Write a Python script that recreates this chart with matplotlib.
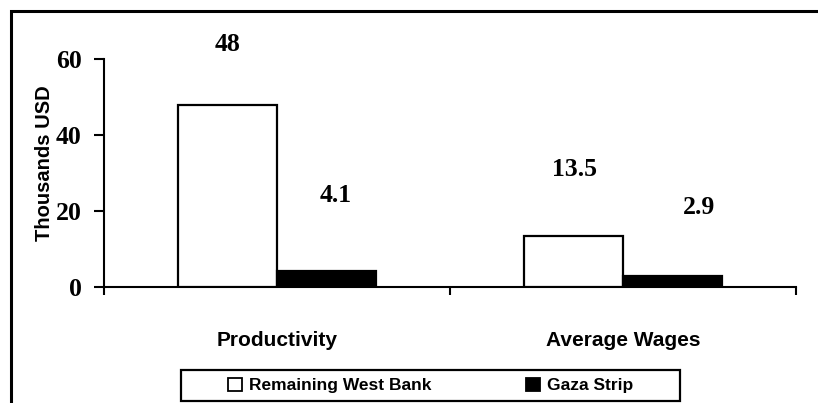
import matplotlib
matplotlib.use("Agg")
import matplotlib.pyplot as plt
from matplotlib.patches import Rectangle, Patch

# data
categories = ["Productivity", "Average Wages"]
west_bank = [48, 13.5]
gaza = [4.1, 2.9]
west_bank_labels = ["48", "13.5"]
gaza_labels = ["4.1", "2.9"]
y_ticks = [0, 20, 40, 60]

# label offsets (pixels, dx, dy above bar top) as placed in the original
wb_offsets = [(0, 60), (1, 66)]
gz_offsets = [(9, 76), (26, 68)]

W, H, DPI = 818, 403, 100
fig = plt.figure(figsize=(W / DPI, H / DPI), dpi=DPI)

# outer frame (only top and left visible)
fig.patches.append(Rectangle((11 / W, -0.1), 1.2, 1 - 11 / H + 0.1,
                             transform=fig.transFigure, fill=False,
                             edgecolor="black", linewidth=2.2))

left, right, top, bottom = 104, 796, 59, 287
ax = fig.add_axes([left / W, 1 - bottom / H, (right - left) / W, (bottom - top) / H])

sans = "Liberation Sans"
serif = "Liberation Serif"
px = 72 / DPI  # pixels -> points

bw = 99 / 346
centers = [i + 0.5 for i in range(len(categories))]
ax.bar([c - bw / 2 for c in centers], west_bank, width=bw, color="white",
       edgecolor="black", linewidth=1.6, label="Remaining West Bank", zorder=3)
ax.bar([c + bw / 2 for c in centers], gaza, width=bw, color="black",
       edgecolor="black", linewidth=1.6, label="Gaza Strip", zorder=3)

for c, v, t, (dx, dy) in zip(centers, west_bank, west_bank_labels, wb_offsets):
    ax.annotate(t, (c - bw / 2, v), xytext=(dx * px, dy * px), textcoords="offset points",
                ha="center", va="center", fontsize=18.5, fontweight="bold", family=serif)
for c, v, t, (dx, dy) in zip(centers, gaza, gaza_labels, gz_offsets):
    ax.annotate(t, (c + bw / 2, v), xytext=(dx * px, dy * px), textcoords="offset points",
                ha="center", va="center", fontsize=18.5, fontweight="bold", family=serif)

for c, name in zip(centers, categories):
    ax.annotate(name, (c, 0), xytext=(0, -53 * px), textcoords="offset points",
                ha="center", va="center", fontsize=15, fontweight="bold", family=sans)

ax.set_xlim(0, len(categories))
ax.set_ylim(0, 60)
ax.set_yticks(y_ticks)
ax.set_yticklabels([str(t) for t in y_ticks], fontsize=18.5, fontweight="bold", family=serif)
ax.set_xticks(range(len(categories) + 1))
ax.set_xticklabels([])
ax.tick_params(axis="y", direction="out", length=7, width=1.5, pad=9)
ax.tick_params(axis="x", direction="out", length=6, width=1.5)
for s in ["top", "right"]:
    ax.spines[s].set_visible(False)
for s in ["left", "bottom"]:
    ax.spines[s].set_linewidth(1.5)
ax.patch.set_alpha(0)

fig.text(45 / W, 1 - 163 / H, "Thousands USD", rotation=90, ha="center", va="center",
         fontsize=14.5, fontweight="bold", family=sans)

# legend box
lx0, lx1, ly0, ly1 = 181, 680, 370, 401
fig.patches.append(Rectangle((lx0 / W, 1 - ly1 / H), (lx1 - lx0) / W, (ly1 - ly0) / H,
                             transform=fig.transFigure, fill=True, facecolor="white",
                             edgecolor="black", linewidth=1.6))
handles = [Patch(facecolor="white", edgecolor="black", linewidth=1.3, label="Remaining West Bank"),
           Patch(facecolor="black", edgecolor="black", linewidth=1.3, label="Gaza Strip")]
leg = fig.legend(handles=handles, loc="center", ncol=2, frameon=False,
                 bbox_to_anchor=((lx0 + lx1) / 2 / W, 1 - (ly0 + ly1) / 2 / H),
                 prop={"family": sans, "weight": "bold", "size": 12.5},
                 handlelength=0.85, handleheight=0.85, handletextpad=0.4,
                 columnspacing=5.4, borderpad=0, borderaxespad=0)

fig.savefig("out.png", dpi=DPI)
